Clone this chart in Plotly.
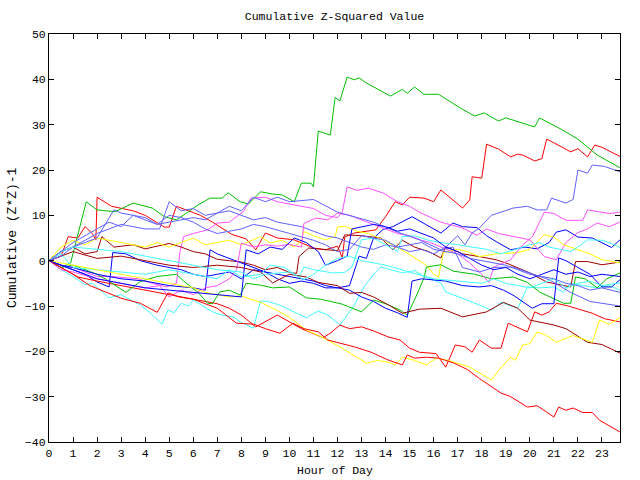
import plotly.graph_objects as go

# ---------------- data (hour of day, cumulative value) ----------------
GREEN_TOP_H = [0, 0.5, 0.9, 1.55, 2.0, 2.75, 3.5, 4.3, 4.8, 5.3, 5.8, 6.2, 6.7, 7.2, 7.45, 7.95, 8.3, 8.8, 9.3, 9.7, 10.2, 10.5, 10.9, 11.0, 11.2, 11.7, 11.9, 12.1, 12.4, 12.7, 12.9, 13.2, 14.2, 14.7, 14.9, 15.2, 15.6, 16.2, 17.1, 17.7, 18.1, 18.7, 19.0, 19.7, 20.2, 20.4, 21.3, 22.0, 22.8, 23.75]
GREEN_TOP_V = [0, -1.5, -0.5, 13, 11.2, 10.8, 12.7, 11.6, 9.7, 9, 10.8, 12.3, 13.8, 13.8, 15, 13, 12.5, 15.2, 14.7, 14.5, 13, 17.1, 17.1, 16.3, 28.6, 27.7, 36, 35.2, 40.5, 39.9, 40.3, 39.2, 36.3, 37.8, 36.9, 38.3, 36.7, 36.7, 33.7, 31.9, 32.6, 30.8, 31.5, 30.4, 29.5, 31.5, 29, 26.8, 23.3, 20.5]

RED_TOP_H = [0, 0.5, 0.8, 1.2, 1.5, 1.8, 1.95, 2.0, 2.6, 3.5, 4.0, 4.8, 5.0, 5.3, 5.8, 6.3, 6.8, 7.6, 8.2, 8.6, 9.0, 9.5, 10.2, 11.0, 11.5, 12.0, 12.2, 12.3, 12.7, 13.6, 13.8, 14.0, 14.4, 14.7, 15.0, 15.6, 16.0, 16.3, 17.2, 17.5, 17.6, 18.0, 18.2, 18.7, 19.2, 19.5, 19.7, 20.2, 20.5, 20.7, 21.0, 21.7, 22.0, 22.4, 22.7, 23.0, 23.75]
RED_TOP_V = [0, 1, 5.3, 5, 7.5, 6, 4.6, 14, 12, 11, 10, 7.4, 7.4, 12, 11, 10, 8.5, 5.8, 4.8, 2.4, 6.1, 5, 4.6, 2.8, 2.4, 3.2, 0.6, 5.2, 6.1, 6.8, 8.3, 9.7, 13, 12.3, 14, 13.8, 13, 15.6, 11.6, 13.4, 18.5, 18.2, 25.7, 24.6, 22.9, 23.5, 23.3, 22, 22.5, 26.8, 26, 24, 24.7, 22.9, 25.5, 25, 23]

RED_MID_H = [0, 0.5, 1.2, 2, 3, 4, 5, 6, 7, 7.5, 8.0, 8.6, 9.5, 10.0, 10.5, 11.4, 11.7, 12.1, 12.5, 13.0, 13.5, 14.1, 14.6, 15.0, 15.4, 16.1, 16.5, 16.9, 17.3, 17.6, 17.9, 18.4, 18.8, 19.1, 19.4, 19.9, 20.2, 20.5, 20.8, 21.1, 21.6, 22.1, 22.6, 23.1, 23.75]
RED_MID_V = [0, -1.5, -3.6, -4.5, -5.5, -6.5, -7.5, -8.5, -9.5, -10.5, -12, -14.6, -12, -13.5, -15, -17, -16, -14.2, -15, -14.6, -15.5, -16.8, -17.5, -19.3, -20.2, -20.5, -23.5, -18.6, -19, -20.2, -17.5, -19.3, -19.3, -13.8, -14.5, -15.7, -11.3, -12, -11.3, -9.4, -10, -10.8, -11.6, -12.8, -13.5]

RED_LOW_H = [0, 0.5, 1, 1.7, 2.4, 3.0, 3.8, 4.5, 4.95, 5.4, 6.0, 6.5, 7.0, 7.8, 8.5, 9.0, 9.6, 10.15, 10.6, 11.2, 11.6, 12.1, 12.7, 13.4, 14.1, 14.7, 14.9, 15.2, 15.7, 16.2, 16.8, 17.4, 17.9, 18.8, 19.2, 19.9, 20.3, 20.7, 21.0, 21.2, 21.5, 21.8, 22.2, 22.6, 22.9, 23.75]
RED_LOW_V = [0, -1.5, -3, -5.5, -7, -8.3, -9.4, -11.4, -7.1, -8, -8.5, -9.5, -10.5, -13.8, -14, -15, -16, -13.8, -15, -15.7, -17.5, -18.2, -19, -20.2, -21.9, -23, -20.8, -21.5, -21.3, -21.5, -22.5, -24, -26, -29.2, -30, -32.3, -32, -33.4, -34.5, -32.3, -33, -32.5, -33.5, -33.5, -35.2, -37.8]

GREEN_LOW_H = [0, 0.5, 1, 2, 2.4, 3.2, 3.8, 4.5, 5.3, 5.6, 6.2, 6.6, 6.8, 7.1, 7.5, 7.95, 8.2, 8.8, 9.3, 10.0, 10.7, 11.3, 12.2, 13.0, 13.5, 14.0, 14.6, 14.9, 15.2, 15.6, 15.7, 16.3, 16.8, 17.7, 18.4, 19.3, 19.9, 20.4, 21.4, 21.7, 21.9, 22.3, 22.8, 23.2, 23.75]
GREEN_LOW_V = [0, -1.5, -1, -3, -4.2, -7, -4.6, -3.5, -3, -4.5, -7, -9.4, -9.5, -6.9, -6.5, -7.6, -5, -5.4, -6, -5.8, -8.2, -8.5, -9.6, -11.3, -8.7, -9.5, -10.9, -12, -8.7, -3.8, -1.4, -0.9, -2.3, -3, -4, -3.6, -4.8, -6.9, -9.4, -9.4, -3.6, -4, -6, -4, -2.7]

MAGENTA_A_H = [0, 0.5, 1, 2, 2.6, 3.7, 4.3, 4.9, 5.3, 5.45, 5.6, 6.0, 6.6, 7.0, 7.5, 8.1, 8.4, 9.0, 9.5, 10.0, 10.5, 11.0, 11.5, 12.0, 12.2, 12.4, 12.8, 13.3, 13.9, 14.5, 15.0, 15.4, 16.3, 17.2, 17.8, 18.2, 18.7, 19.2, 20.0, 20.6, 21.1, 21.5, 22.0, 22.4, 22.8, 23.3, 23.75]
MAGENTA_A_V = [0, -1, -1.5, -3.5, -3.5, -4, -5, -5.8, -5, 2, 5.3, 6, 6.8, 8.3, 8.5, 10.9, 13.8, 14, 13, 12.5, 12, 11.5, 10, 9.5, 10.7, 16.3, 15.5, 16, 14.9, 13, 12, 10.7, 8.5, 7.2, 5.6, 7, 6, 5.5, 4.6, 0.9, 0.2, 4, 6.2, 7, 8.3, 7.5, 8.5]

MAGENTA_B_H = [0, 0.5, 1, 2, 3, 4, 4.6, 5, 5.5, 6, 6.5, 7, 7.5, 7.8, 8.0, 8.5, 9.0, 9.5, 10.0, 10.5, 10.6, 11.1, 11.6, 12.0, 12.5, 13.0, 13.5, 14.0, 14.5, 15.0, 15.5, 15.85, 16.5, 17.0, 17.5, 18.0, 18.3, 18.5, 19.2, 19.7, 20.1, 20.6, 21.0, 21.5, 22.2, 22.4, 23.3, 23.75]
MAGENTA_B_V = [0, -2, -2.5, -4, -5, -6, -5.5, -8, -6.5, -7.5, -6, -5.5, -4, -2, 3.9, 3, 3.5, 3.2, 3.6, 3, 8.2, 9.4, 9, 10.5, 10, 9, 8, 7, 6, 5.5, 4.5, 4, 2.5, 1.5, -0.5, -3, -4.8, -1.4, 0.2, 3.5, 5.2, 10.7, 10.4, 8.9, 8.9, 11.2, 10.4, 10.7]

CYAN_A_H = [0, 0.5, 1.0, 1.5, 1.8, 2.5, 3.0, 3.8, 4.2, 4.7, 4.95, 5.2, 5.5, 5.8, 6.0, 6.4, 6.8, 7.2, 7.7, 7.95, 8.5, 8.8, 9.1, 9.6, 10.7, 11.2, 11.6, 12.1, 12.4, 12.7, 13.1, 13.5, 13.8, 14.2, 14.7, 15.2, 15.6, 16.3, 16.5, 17.3, 18.4, 18.8, 19.5, 19.9, 20.4, 21.0, 21.4, 21.7, 22.2, 22.8, 23.3, 23.75]
CYAN_A_V = [0, -2, -3.5, -5.3, -5, -8.2, -7.5, -9.8, -11.5, -14, -10.9, -11.5, -9.4, -10, -8.7, -10, -11.3, -12, -12.5, -13.5, -14.9, -8.9, -9, -9.8, -12.6, -11.1, -12, -14.2, -12, -9.8, -5.8, -3, -1.4, -2, -2.7, -2.2, -3.5, -4.9, -6.9, -8.5, -10.9, -9.2, -10.5, -5.8, -6, -5.8, -7, -4.9, -5.5, -6, -5.5, -6.5]

CYAN_B_H = [0, 0.5, 1, 2, 3, 4, 5, 6, 7, 7.5, 8, 8.8, 9.2, 9.8, 10.4, 10.6, 11.0, 11.8, 12.3, 12.6, 13.0, 13.5, 14.0, 14.5, 14.7, 15.2, 15.8, 16.3, 17.0, 17.6, 18.2, 18.8, 19.3, 20.0, 20.4, 20.8, 21.7, 22.0, 22.4, 23.0, 23.4, 23.75]
CYAN_B_V = [0, 1.5, -1.5, -2, -2.5, -3, -2, -3, -4, -2, -3.6, -3, -1, -1.5, -3.6, -1.4, -2, -2.7, -2.6, -1.4, 4.6, 5, 3.5, 2, 5.3, 5.5, 4.5, 4, 3.5, 3, 2.5, 1.5, 2.4, 3.5, 4, 3, 2, 3, 4.6, 4.5, 3.8, 2.9]

CYAN_C_H = [0, 0.5, 1, 2, 3, 4, 5, 6, 7, 8, 8.5, 9, 10, 10.6, 11, 11.5, 12, 12.5, 13, 14, 15, 16, 17, 18, 18.5, 19, 20, 20.5, 21, 21.5, 22, 22.5, 23, 23.75]
CYAN_C_V = [0, 2, 3, 2.5, 2, 1, 0, -1, -2, -2.5, -4, -3, -2.5, -4.2, -3, -1, 0.5, 1, 0, -1, -2.5, -4, -4.5, -5, -4, -5, -6, -5, -4, -6, -5, -4.5, -5.5, -4.9]

YELLOW_A_H = [0, 0.5, 1, 1.5, 2, 3, 4, 4.5, 5, 5.5, 6, 6.5, 7, 7.5, 8, 8.8, 9.2, 9.7, 10.2, 10.5, 10.6, 11.0, 11.5, 11.9, 12.0, 12.3, 12.8, 13.3, 13.9, 14.8, 15.7, 16.0, 16.2, 16.4, 17.0, 17.4, 17.9, 18.6, 19.5, 20.0, 20.6, 21.0, 21.4, 22.0, 22.5, 23.0, 23.75]
YELLOW_A_V = [0, 3, 4.5, 3.5, 5, 4, 3, 4, 3, 4, 5, 3.5, 4, 4.5, 3.5, 5.3, 3.9, 4.5, 3, 4.5, 6.4, 5.5, 4.6, 5.3, 7.4, 7.6, 6.5, 6, 4.6, 2, -1, -3, -3.6, 1.8, 2.5, 2, 0.9, 1.5, 1.8, 2.5, 5.7, 5.2, 3.5, 2.5, 1.5, 0.2, -0.5]

YELLOW_B_H = [0, 0.5, 1, 2, 3, 4, 5, 6, 6.5, 7.0, 7.5, 8.0, 8.8, 9.5, 10.0, 10.7, 11.4, 12.1, 12.8, 13.2, 13.7, 14.1, 14.4, 14.7, 15.2, 15.7, 16.1, 16.6, 17.5, 18.4, 18.7, 19.2, 19.4, 19.7, 20.0, 20.3, 20.7, 21.1, 21.8, 22.3, 22.6, 22.9, 23.3, 23.75]
YELLOW_B_V = [0, -0.5, -1, -2, -3, -4, -5, -6, -7, -7.5, -8, -7.8, -9.2, -11, -12.5, -15.3, -17, -19, -21.3, -22.6, -22, -22.4, -23, -21.3, -22, -23, -21.5, -22, -23.5, -26.3, -24.2, -21.3, -22, -18.6, -18.3, -15.7, -16.5, -18, -16.5, -17.5, -18, -13.1, -14, -12.6]

DARKRED_A_H = [0, 0.5, 1, 1.5, 2, 2.2, 2.7, 3.5, 4, 5, 5.5, 6, 6.5, 7, 7.5, 8, 8.5, 9, 9.5, 10, 10.3, 10.4, 10.8, 11.5, 12, 12.3, 13, 13.8, 14.3, 14.7, 15.2, 15.8, 16.3, 16.5, 17.2, 17.9, 18.6, 19.1, 20.0, 20.7, 21.7, 21.9, 22.4, 23.0, 23.75]
DARKRED_A_V = [0, 2, 3, 1.5, 2, 5.3, 3, 3.5, 2.6, 3.8, 3, 2, 1.5, 0.3, 0, -0.3, -1, -2, -1.5, -2.6, -2.8, 0.9, 2.8, 2.4, 2.2, 5.7, 5.5, 5, 2.4, 4.5, 3, 2, 0.6, 3.1, 1.5, 0.9, 0.2, -0.7, -2.7, -4.7, -5.8, -0.2, -0.2, -0.9, -0.3]

DARKRED_B_H = [0, 0.5, 1, 2, 3, 4, 5, 6, 7, 8, 8.8, 9.3, 10, 10.7, 11.2, 12, 12.5, 13, 13.5, 14.2, 14.7, 15.4, 16.3, 17.2, 18.2, 18.9, 19.5, 20.0, 21.0, 21.5, 22.4, 23.0, 23.75]
DARKRED_B_V = [0, 1, 2, 0.5, 1, 0, -1, -1.5, -1, -1.5, -2.5, -4.9, -3, -3.6, -4.8, -5.5, -7.2, -7, -8, -10, -11.6, -10.7, -10.5, -12.4, -11.3, -9.2, -10.5, -13.1, -14.2, -15, -18, -18.5, -20.4]

BLUE_A_H = [0, 0.5, 1, 1.5, 2, 2.5, 2.65, 3.2, 3.8, 4.5, 5, 5.5, 6, 6.5, 7, 7.5, 8, 8.5, 9, 9.5, 10, 10.5, 11, 11.5, 12, 12.5, 12.9, 13.2, 13.5, 13.9, 14.3, 14.7, 15.1, 15.7, 16.3, 16.8, 17.2, 17.8, 18.2, 18.6, 19.2, 19.8, 20.3, 20.8, 21.1, 21.5, 22.0, 22.6, 23.0, 23.4, 23.75]
BLUE_A_V = [0, -1, -2, -3, -4.7, -5.8, 1.8, 1.5, 0, -1, -1.5, -2, -3, -3.5, -3, -2.5, -4, -2, -2.5, -4, -5, -4.5, -5, -6, -6, -5.5, 1, 0.5, 5, 6.9, 7.5, 8.6, 9.7, 7.9, 6.1, 8.3, 7.5, 7.3, 5.5, 4.2, 2.4, 3, 2.6, 4, 6.3, 6.8, 5.2, 5, 4, 2.9, 4.6]

BLUE_B_H = [0, 0.5, 1, 2, 3, 4, 5, 6, 6.5, 6.7, 7, 7.5, 8, 8.5, 9, 9.5, 10, 10.5, 11, 11.5, 12, 12.5, 13, 13.5, 14, 14.5, 14.9, 15.1, 15.5, 15.85, 16.5, 17.2, 17.9, 18.4, 18.9, 19.3, 19.7, 20.1, 20.5, 21.0, 21.2, 21.5, 22.0, 22.5, 23.0, 23.4, 23.75]
BLUE_B_V = [0, -1, -1.5, -3, -4, -4.5, -5.5, -6, -6.5, 2.4, 1.5, 0.5, -0.5, -1.5, -2.5, -3, -3.5, -4, -4.5, -5.5, -6, -6.5, -8, -9, -10.5, -11.5, -12.5, -4.5, -4, -4.2, -4.5, -5.5, -5.8, -5.5, -6.5, -7.6, -9, -10.5, -9.5, -9.5, 0.6, 0, -1.5, -3, -5.8, -5.8, -4.2]

BLUE_C_H = [0, 0.5, 1, 2, 3, 4, 5, 6, 7, 8, 8.2, 8.7, 9.2, 9.7, 10.2, 10.7, 11.2, 11.5, 12, 12.4, 12.6, 13, 13.5, 14, 14.5, 15, 15.5, 16, 16.5, 17, 17.5, 18, 18.5, 19, 19.5, 20, 20.5, 21, 21.5, 22, 22.5, 23, 23.75]
BLUE_C_V = [0, -1, -2, -4, -5, -6, -6.5, -7, -7.5, -8, 2.4, 1.5, 3, 2.5, 5, 4, 2, -1, 0, 1, 7, 7.5, 8, 7.5, 6.5, 7, 6, 5, 3, 2, 0.5, -1, -2, -1.5, -3, -4, -3, -2, -3, -2.5, -3.5, -3, -3.5]

MIDBLUE_A_H = [0, 0.5, 1, 2, 2.7, 3, 4, 4.5, 5, 6, 6.5, 7, 7.5, 8, 8.5, 9, 9.5, 10, 10.5, 11, 11.5, 12, 12.5, 13, 13.5, 14, 14.5, 15, 15.5, 16, 16.5, 17, 17.3, 17.6, 17.9, 18.4, 18.8, 19.3, 19.9, 20.3, 20.7, 20.9, 21.5, 21.8, 22.0, 22.4, 22.6, 23.1, 23.75]
MIDBLUE_A_V = [0, 2, 3, 5, 11.2, 10.5, 9.5, 8, 8.5, 9.5, 9, 10.5, 11, 10, 9, 9.5, 8.5, 8, 7.5, 6.5, 5.5, 5, 4, 3, 2.5, 3.5, 3, 2, 2.5, 1.5, 3, 5.5, 3.5, 6.1, 7.2, 10, 10.7, 11.6, 12, 11.2, 11.2, 13.8, 12.7, 13.5, 20, 19.3, 21.1, 20.8, 19.6]

MIDBLUE_B_H = [0, 0.5, 1, 2, 3, 4, 4.6, 5, 5.5, 6, 6.5, 7, 7.5, 8, 8.5, 9, 9.5, 10, 11, 12, 13.5, 14.5, 15.4, 16.3, 16.8, 17.2, 17.9, 18.5, 19.3, 20, 20.8, 21.7, 22.5, 23.75]
MIDBLUE_B_V = [0, 1, 3, 6, 8, 7, 7, 13, 11, 11.5, 10, 10.5, 12, 11, 14, 13, 14, 13, 13.5, 10.7, 8.5, 6.3, 4.6, 2.4, 3, -1.5, -2.5, -1.5, -1.4, -2.7, -4.2, -7, -9, -10]

MIDBLUE_C_H = [0, 0.5, 1, 2, 2.5, 3, 3.5, 4, 4.5, 5, 5.5, 6, 6.5, 7, 7.5, 8, 8.5, 9, 10, 11, 11.5, 12, 12.5, 13, 13.5, 14, 14.5, 15, 15.5, 16, 16.5, 17, 17.5, 18, 18.5, 19, 19.5, 20, 20.5, 21, 21.5, 22, 22.5, 23, 23.75]
MIDBLUE_C_V = [0, 2, 4, 7, 8.5, 7.5, 10, 9, 8, 10, 9.5, 8.5, 7, 6, 6.5, 7, 8, 7.5, 6, 4.5, 3.5, 2, 2.5, 5.5, 5, 4.5, 3, 3.5, 4, 2.5, 2, 1.5, 0.5, 0, -0.5, -1, -2, -3, -3.5, -4, -5, -5.5, -6.5, -6, -7]

X_TICKS = list(range(24))
Y_TICKS = [-40, -30, -20, -10, 0, 10, 20, 30, 40, 50]

RED, GREEN, BLUE, MAGENTA = "#ff0000", "#00c000", "#0000ff", "#ff50ff"
CYAN, DARKRED, YELLOW, MIDBLUE = "#40ffff", "#a00000", "#ffff00", "#6060ff"

series = [
    (RED_TOP_H, RED_TOP_V, RED),
    (GREEN_TOP_H, GREEN_TOP_V, GREEN),
    (BLUE_A_H, BLUE_A_V, BLUE),
    (MAGENTA_A_H, MAGENTA_A_V, MAGENTA),
    (CYAN_A_H, CYAN_A_V, CYAN),
    (DARKRED_A_H, DARKRED_A_V, DARKRED),
    (YELLOW_A_H, YELLOW_A_V, YELLOW),
    (MIDBLUE_A_H, MIDBLUE_A_V, MIDBLUE),
    (RED_MID_H, RED_MID_V, RED),
    (GREEN_LOW_H, GREEN_LOW_V, GREEN),
    (BLUE_B_H, BLUE_B_V, BLUE),
    (MAGENTA_B_H, MAGENTA_B_V, MAGENTA),
    (CYAN_B_H, CYAN_B_V, CYAN),
    (DARKRED_B_H, DARKRED_B_V, DARKRED),
    (YELLOW_B_H, YELLOW_B_V, YELLOW),
    (MIDBLUE_B_H, MIDBLUE_B_V, MIDBLUE),
    (RED_LOW_H, RED_LOW_V, RED),
    (BLUE_C_H, BLUE_C_V, BLUE),
    (CYAN_C_H, CYAN_C_V, CYAN),
    (MIDBLUE_C_H, MIDBLUE_C_V, MIDBLUE),
]

fig = go.Figure()
for i, (hx, vy, col) in enumerate(series):
    if len(hx) != len(vy):
        raise ValueError(f"series {i}: {len(hx)} hours vs {len(vy)} values")
    fig.add_trace(go.Scatter(x=hx, y=vy, mode="lines",
                             line=dict(color=col, width=1), showlegend=False,
                             hoverinfo="skip"))

FONT = "Liberation Mono"
axis_common = dict(showline=True, linecolor="black", linewidth=1, mirror="ticks",
                   ticks="inside", ticklen=5, tickcolor="black", tickwidth=1,
                   showgrid=False, zeroline=False,
                   tickfont=dict(family=FONT, size=11.5, color="black"))

fig.update_layout(
    width=640, height=480,
    margin=dict(l=49, r=20, t=34, b=38),
    paper_bgcolor="white", plot_bgcolor="white",
    title=dict(text="Cumulative Z-Squared Value", x=0.5, xref="paper",
               y=1 - 16 / 480, yref="container", yanchor="middle",
               font=dict(family=FONT, size=11.5, color="black")),
    xaxis=dict(range=[0, 23.75], tickvals=X_TICKS, **axis_common),
    yaxis=dict(range=[-40, 50], tickvals=Y_TICKS, **axis_common),
    annotations=[
        dict(text="Hour of Day", xref="paper", yref="paper", x=0.5, y=-28 / 408,
             xanchor="center", yanchor="middle", showarrow=False,
             font=dict(family=FONT, size=11.5, color="black")),
        dict(text="Cumulative (Z*Z)-1", xref="paper", yref="paper", x=-37 / 571, y=0.5,
             xanchor="center", yanchor="middle", textangle=-90, showarrow=False,
             font=dict(family=FONT, size=13, color="black")),
    ],
)

# remove the default 8px page margin so the 640x480 figure fills the window
fig.write_html("out.html",
               config={"displayModeBar": False, "staticPlot": True},
               post_script="document.body.style.margin='0';document.body.style.overflow='hidden';")
